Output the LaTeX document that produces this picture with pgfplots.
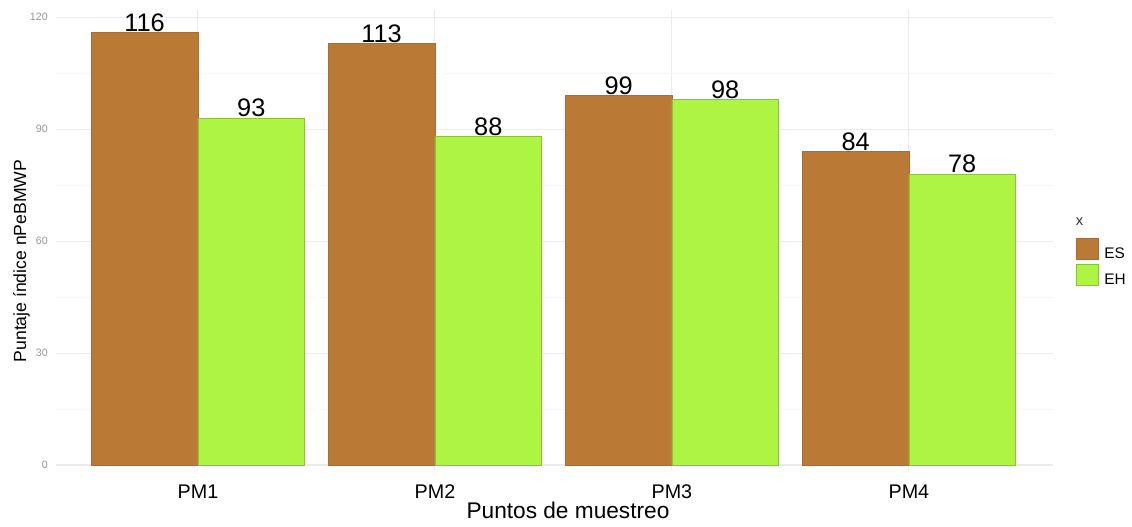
\documentclass[border=0pt]{standalone}
\usepackage{fontspec}
\setmainfont{Liberation Sans}
\usepackage{pgfplots}
\pgfplotsset{compat=1.18}
\definecolor{esbrown}{RGB}{186,122,54}
\definecolor{ehgreen}{RGB}{173,245,66}
\definecolor{tickgray}{RGB}{150,150,150}
\definecolor{gridmajor}{RGB}{235,235,235}
\definecolor{gridminor}{RGB}{246,246,246}

\begin{document}
\begin{tikzpicture}
\begin{axis}[
  scale only axis,
  width=747.75pt, height=345pt,
  clip=false,
  xmin=0.401, xmax=4.608,
  ymin=-1.34, ymax=121.95,
  ybar=0pt, bar width=0.45,
  xtick={1,2,3,4}, xticklabels={PM1,PM2,PM3,PM4},
  ytick={0,30,60,90,120},
  minor ytick={15,45,75,105},
  xmajorgrids, ymajorgrids, yminorgrids,
  major grid style={gridmajor, line width=0.8pt},
  minor grid style={gridminor, line width=0.5pt},
  axis line style={draw=none},
  major tick length=0pt, minor tick length=0pt,
  tick style={draw=none},
  /pgf/number format/assume math mode=true,
  yticklabel style={font=\fontsize{8}{8}\selectfont, text=tickgray, anchor=east, inner sep=0pt, xshift=-6pt},
  xticklabel style={font=\fontsize{14.8}{15}\selectfont, anchor=base, inner sep=0pt, yshift=-21pt},
  xlabel={Puntos de muestreo},
  ylabel={Puntaje índice nPeBMWP},
  xlabel style={at={(axis description cs:0.5135,-0.0696)}, anchor=north, inner sep=0pt, font=\fontsize{17}{17}\selectfont},
  ylabel style={at={(axis description cs:-0.0261,0.4543)}, anchor=south, inner sep=0pt, font=\fontsize{13.2}{13}\selectfont},
  nodes near coords,
  nodes near coords style={font=\fontsize{19}{19}\selectfont, text=black, anchor=south, inner sep=0pt, yshift=0.5pt},
  legend style={at={(rel axis cs:1,0.505)}, anchor=north west, xshift=17pt, draw=none, fill=none, inner sep=0pt, row sep=1pt, column sep=2.5pt, font=\fontsize{11.5}{11.5}\selectfont, cells={anchor=west}},
  legend image code/.code={\fill[#1] (0pt,-3.75pt) rectangle (16.5pt,11.75pt);},
]
% ES
\addplot[fill=esbrown, draw=esbrown!90!black, line width=0.4pt, bar shift=-0.225] coordinates {(1,116) (2,113) (3,99) (4,84)};
\addlegendentry{ES}
% EH
\addplot[fill=ehgreen, draw=ehgreen!80!black, line width=0.4pt, bar shift=0.225] coordinates {(1,93) (2,88) (3,98) (4,78)};
\addlegendentry{EH}
\node[anchor=west, inner sep=0pt, xshift=17pt, font=\fontsize{11}{11}\selectfont, text=black!80] at (rel axis cs:1,0.539) {x};
\end{axis}
\pgfresetboundingbox
\path ([shift={(-42pt,-42pt)}]current axis.south west) rectangle ([shift={(59.25pt,7.5pt)}]current axis.north east);
\end{tikzpicture}
\end{document}
